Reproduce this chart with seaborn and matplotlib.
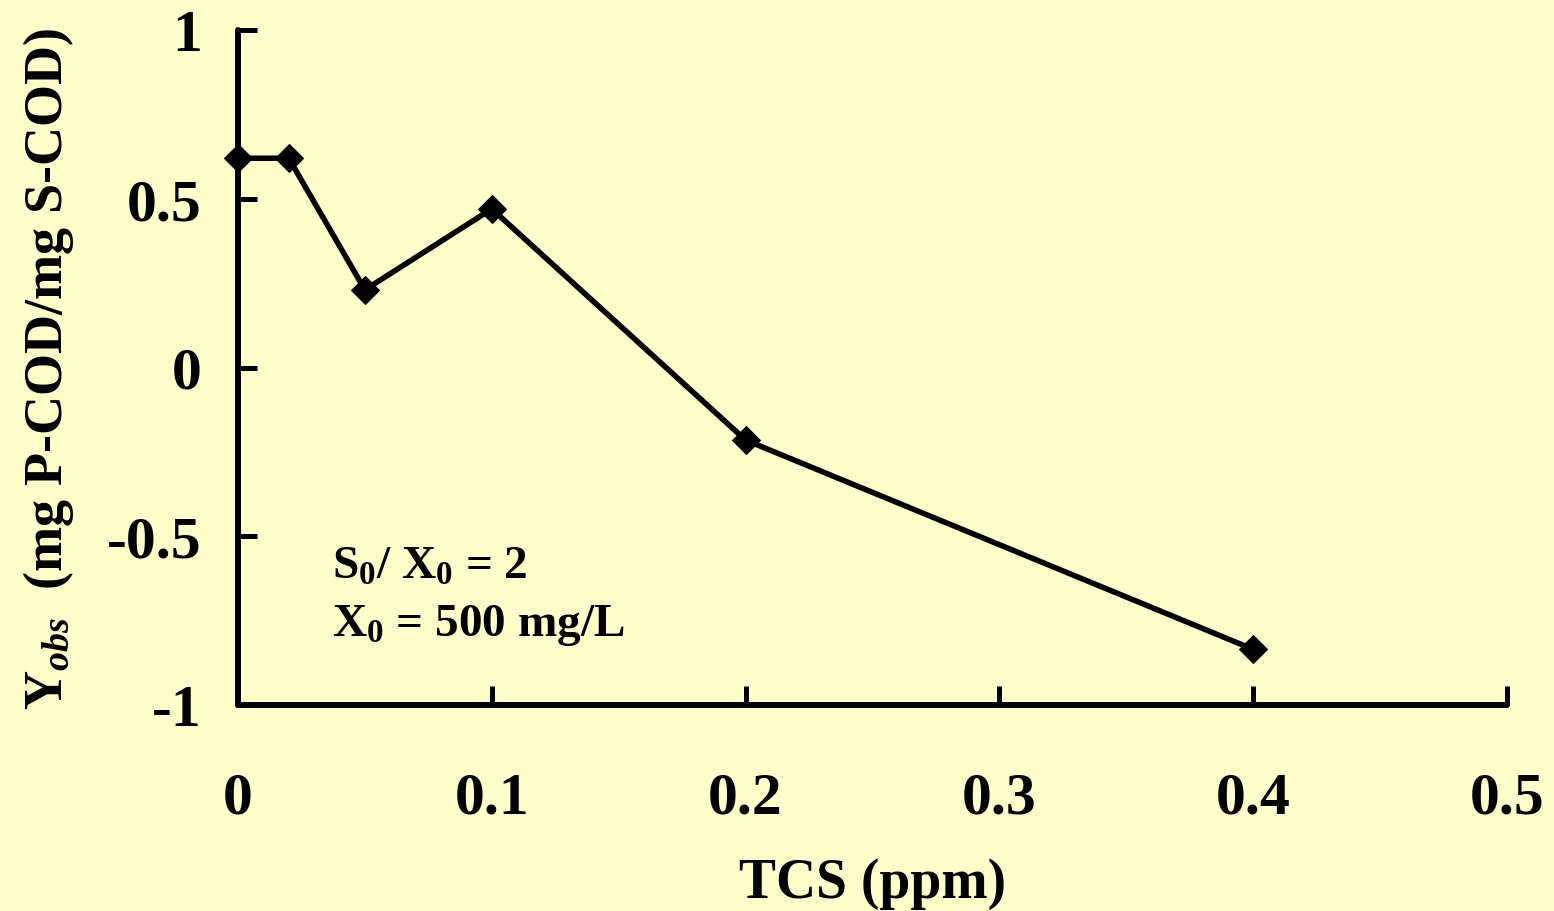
import matplotlib
matplotlib.use("Agg")
import matplotlib.pyplot as plt
import seaborn as sns
import pandas as pd

# data
tcs_ppm = [0.0, 0.02, 0.05, 0.1, 0.2, 0.4]
y_obs = [0.62, 0.62, 0.23, 0.47, -0.215, -0.835]
x_ticks = [0, 0.1, 0.2, 0.3, 0.4, 0.5]
x_tick_labels = ["0", "0.1", "0.2", "0.3", "0.4", "0.5"]
y_ticks = [-1, -0.5, 0, 0.5, 1]
y_tick_labels = ["-1", "-0.5", "0", "0.5", "1"]

sns.set_style("white")
plt.rcParams['font.family'] = ['Liberation Serif', 'DejaVu Serif']
plt.rcParams['font.weight'] = 'bold'
plt.rcParams['text.color'] = 'black'
plt.rcParams['axes.labelcolor'] = 'black'
plt.rcParams['mathtext.fontset'] = 'custom'
plt.rcParams['mathtext.rm'] = 'Liberation Serif:bold'
plt.rcParams['mathtext.it'] = 'Liberation Serif:italic:bold'
plt.rcParams['mathtext.bf'] = 'Liberation Serif:bold'

bg = "#FFFFCC"
fig = plt.figure(figsize=(15.54, 9.12), dpi=100, facecolor=bg)
ax = fig.add_axes([238/1554, 1-706/912, (1507-238)/1554, (706-31)/912])
ax.set_facecolor(bg)

df = pd.DataFrame({"TCS": tcs_ppm, "Y": y_obs})
sns.lineplot(data=df, x="TCS", y="Y", ax=ax, color="black", linewidth=4.0,
             marker="D", markersize=14, markeredgecolor="black",
             markerfacecolor="black", clip_on=False, zorder=5)

ax.set_xlim(0, 0.5)
ax.set_ylim(-1, 1)
ax.set_xticks(x_ticks)
ax.set_xticklabels(x_tick_labels)
ax.set_yticks(y_ticks)
ax.set_yticklabels(y_tick_labels)

for s in ["top", "right"]:
    ax.spines[s].set_visible(False)
for s in ["left", "bottom"]:
    ax.spines[s].set_linewidth(4.3)
    ax.spines[s].set_color("black")
    ax.spines[s].set_capstyle("round")

ax.tick_params(axis="x", bottom=True, direction="in", length=14, width=3.6, pad=48,
               labelsize=43, colors="black")
ax.tick_params(axis="y", left=True, direction="in", length=14, width=3.6, pad=26,
               labelsize=43, colors="black")
for lab in ax.get_xticklabels() + ax.get_yticklabels():
    lab.set_fontweight("bold")
    lab.set_color("black")

ax.set_xlabel("TCS (ppm)", fontsize=40, fontweight="bold", color="black")
ax.set_ylabel(r"$\mathrm{Y}_{\mathit{obs}}$  (mg P-COD/mg S-COD)",
              fontsize=39, fontweight="bold", color="black")
ax.yaxis.set_label_coords(-0.128, 0.5)
ax.xaxis.set_label_coords(0.5, -0.225)

ax.text(0.074, 0.205, r"S$_0$/ X$_0$ = 2", transform=ax.transAxes,
        fontsize=34, fontweight="bold", va="center", ha="left", color="black")
ax.text(0.074, 0.12, r"X$_0$ = 500 mg/L", transform=ax.transAxes,
        fontsize=34, fontweight="bold", va="center", ha="left", color="black")

fig.savefig("out.png", dpi=100, facecolor=bg)
